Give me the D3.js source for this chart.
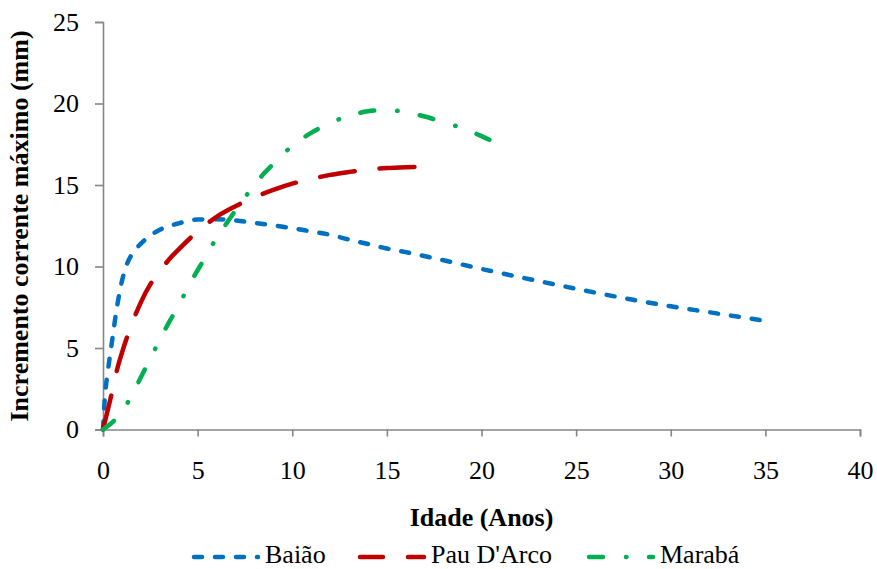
<!DOCTYPE html>
<html>
<head>
<meta charset="utf-8">
<script src="https://cdn.jsdelivr.net/npm/d3@7"></script>
<style>
html,body{margin:0;padding:0;background:#fff;}
svg{display:block;}
svg text{font-family:"Liberation Serif","Times New Roman",Times,"DejaVu Serif",serif !important;}
</style>
</head>
<body>
<svg id="chart" width="877" height="569"></svg>
<script>
// ---- data ----
const baiaoX = [0,0.1,0.25,0.5,0.75,1,1.25,1.5,2,2.5,3,4,5,6,7,8,9,10,11,12,13,14,15,16,18,20,22,24,26,28,30,32,34,35];
const baiaoY = [0,2.0,3.5,5.6,7.6,9.1,10.1,10.7,11.4,11.9,12.25,12.65,12.88,12.9,12.82,12.68,12.52,12.35,12.15,11.95,11.65,11.38,11.1,10.88,10.38,9.85,9.35,8.87,8.4,7.96,7.56,7.2,6.84,6.66];

const pauX = [0,0.5,0.75,1,1.5,2,2.5,3,3.5,4,5,6,7,8,9,10,11,12,13,14,15,16,17];
const pauY = [0,2.4,3.7,4.7,6.4,7.8,8.9,9.7,10.45,11.05,12.15,13.05,13.7,14.25,14.7,15.08,15.37,15.62,15.8,15.95,16.04,16.09,16.12];

const marabaX = [0,0.5,1,1.5,2,2.5,3,3.5,4,4.5,5,5.5,6,6.5,7,7.5,8,8.5,9,10,11,12,13,14,15,16,17,18,19,20,21];
const marabaY = [0,0.45,1.1,2.05,3.2,4.35,5.5,6.6,7.6,8.75,9.77,10.75,11.76,12.6,13.45,14.25,14.98,15.7,16.3,17.4,18.2,18.8,19.25,19.52,19.6,19.47,19.2,18.85,18.48,18.0,17.43];

const seriesNames = ["Baião","Pau D'Arco","Marabá"];
const seriesColors = ["#0070C0","#C00000","#00B050"];
const seriesDash = ["8,13","35,25","14,23,0.5,22.5"];
const xTicks = [0,5,10,15,20,25,30,35,40];
const yTicks = [0,5,10,15,20,25];
const xTitle = "Idade (Anos)";
const yTitle = "Incremento corrente máximo (mm)";

const series = [
  {name: seriesNames[0], pts: baiaoX.map((x,i)=>[x,baiaoY[i]])},
  {name: seriesNames[1], pts: pauX.map((x,i)=>[x,pauY[i]])},
  {name: seriesNames[2], pts: marabaX.map((x,i)=>[x,marabaY[i]])}
];

// ---- layout ----
const FONT = "'Liberation Serif','Times New Roman',Times,'DejaVu Serif',serif";
const svg = d3.select("#chart");
const x = d3.scaleLinear().domain([0,40]).range([103,860]);
const y = d3.scaleLinear().domain([0,25]).range([429.5,22]);
const axisColor = "#868686";
const fs = 26;

// axes
const xAxis = svg.append("g").attr("transform","translate(0,429.5)")
  .call(d3.axisBottom(x).tickValues(xTicks).tickSize(7).tickPadding(24).tickFormat(d3.format("d")));
const yAxis = svg.append("g").attr("transform","translate(103,0)")
  .call(d3.axisLeft(y).tickValues(yTicks).tickSize(8).tickPadding(16).tickFormat(d3.format("d")));
[xAxis,yAxis].forEach(g=>{
  g.attr("font-family",FONT).attr("font-size",fs);
  g.select(".domain").attr("stroke",axisColor).attr("stroke-width",1.6);
  g.selectAll(".tick line").attr("stroke",axisColor).attr("stroke-width",1.6);
  g.selectAll(".tick text").attr("fill","#000").attr("font-family",FONT).attr("font-size",fs);
});
xAxis.selectAll(".tick text").attr("dy","0.71em");

// lines
const line = d3.line().x(d=>x(d[0])).y(d=>y(d[1])).curve(d3.curveMonotoneX);
series.forEach((s,i)=>{
  svg.append("path").datum(s.pts)
    .attr("d",line)
    .attr("fill","none")
    .attr("stroke",seriesColors[i])
    .attr("stroke-width",4.5)
    .attr("stroke-linecap","round")
    .attr("stroke-linejoin","round")
    .attr("stroke-dasharray",seriesDash[i]);
});

// titles
svg.append("text").attr("x",481.5).attr("y",525.5).attr("text-anchor","middle")
  .attr("font-family",FONT).attr("font-size",fs).attr("font-weight","bold").text(xTitle);
svg.append("text").attr("transform","translate(28,226) rotate(-90)").attr("text-anchor","middle")
  .attr("font-family",FONT).attr("font-size",fs).attr("font-weight","bold").text(yTitle);

// legend
const legX = [192,358,587];
const legOffset = [0,12,0];
const ly = 557;
series.forEach((s,i)=>{
  const g = svg.append("g");
  g.append("line").attr("x1",legX[i]+2).attr("x2",legX[i]+66).attr("y1",ly).attr("y2",ly)
    .attr("stroke",seriesColors[i]).attr("stroke-width",4.5).attr("stroke-linecap","round")
    .attr("stroke-dasharray",seriesDash[i]).attr("stroke-dashoffset",legOffset[i]);
  g.append("text").attr("x",legX[i]+73).attr("y",563)
    .attr("font-family",FONT).attr("font-size",fs).text(s.name);
});
</script>
</body>
</html>
